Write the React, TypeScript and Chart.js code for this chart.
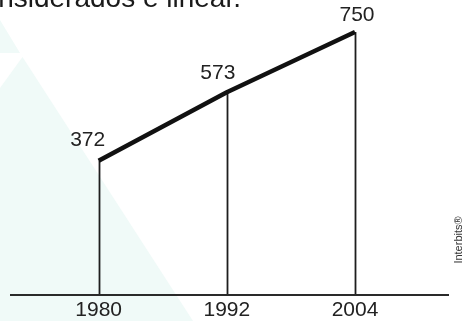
import React, { useEffect, useRef } from "react";
import { Chart, registerables } from "chart.js";

Chart.register(...registerables);

const years = [1980, 1992, 2004];
const values = [372, 573, 750];
const tickLabels = ["1980", "1992", "2004"];
const valueLabels = ["372", "573", "750"];
const caption = "considerados é linear.";
const credit = "Interbits®";

export default function App() {
  const ref = useRef<HTMLCanvasElement | null>(null);

  useEffect(() => {
    if (!ref.current) return;
    const decor = {
      id: "decor",
      beforeDraw(chart: any) {
        const ctx = chart.ctx;
        ctx.save();
        ctx.fillStyle = "#ffffff";
        ctx.fillRect(0, 0, chart.width, chart.height);
        ctx.fillStyle = "#f0faf8";
        ctx.beginPath();
        ctx.moveTo(0, 20);
        ctx.lineTo(20, 53);
        ctx.lineTo(0, 53);
        ctx.closePath();
        ctx.fill();
        ctx.beginPath();
        ctx.moveTo(22.5, 57);
        ctx.lineTo(193, 321);
        ctx.lineTo(0, 321);
        ctx.lineTo(0, 88);
        ctx.closePath();
        ctx.fill();
        // caption (cut off at top)
        ctx.fillStyle = "#1a1a1a";
        ctx.font = "28px 'Liberation Sans', Arial, sans-serif";
        ctx.textAlign = "right";
        ctx.textBaseline = "alphabetic";
        ctx.fillText(caption, 241, 7);
        ctx.restore();
      },
      beforeDatasetsDraw(chart: any) {
        const ctx = chart.ctx;
        const area = chart.chartArea;
        const meta = chart.getDatasetMeta(0);
        ctx.save();
        ctx.strokeStyle = "#1e1e1e";
        ctx.lineWidth = 1.8;
        meta.data.forEach((pt: any) => {
          ctx.beginPath();
          ctx.moveTo(Math.round(pt.x) + 0.5, pt.y);
          ctx.lineTo(Math.round(pt.x) + 0.5, area.bottom);
          ctx.stroke();
        });
        ctx.strokeStyle = "#2a2a2a";
        ctx.lineWidth = 1.8;
        ctx.beginPath();
        ctx.moveTo(area.left, area.bottom);
        ctx.lineTo(area.right, area.bottom);
        ctx.stroke();
        ctx.restore();
      },
      afterDatasetsDraw(chart: any) {
        const ctx = chart.ctx;
        const area = chart.chartArea;
        const meta = chart.getDatasetMeta(0);
        const xs = chart.scales.x;
        ctx.save();
        ctx.fillStyle = "#222222";
        ctx.font = "21px 'Liberation Sans', Arial, sans-serif";
        ctx.textAlign = "center";
        ctx.textBaseline = "middle";
        const dx = [-11, -9, 2];
        const dy = [-21, -19, -17];
        meta.data.forEach((pt: any, i: number) => {
          ctx.fillText(valueLabels[i], pt.x + dx[i], pt.y + dy[i]);
        });
        years.forEach((y, i) => {
          ctx.fillText(tickLabels[i], xs.getPixelForValue(y), area.bottom + 15);
        });
        ctx.font = "11px 'Liberation Sans', Arial, sans-serif";
        ctx.fillStyle = "#333333";
        ctx.translate(459, 240);
        ctx.rotate(-Math.PI / 2);
        ctx.fillText(credit, 0, 0);
        ctx.restore();
      },
    };

    const chart = new Chart(ref.current, {
      type: "scatter",
      data: {
        datasets: [
          {
            data: years.map((y, i) => ({ x: y, y: values[i] })),
            showLine: true,
            borderColor: "#111111",
            borderWidth: 4.5,
            pointRadius: 0,
            borderJoinStyle: "round",
          },
        ],
      },
      options: {
        responsive: false,
        animation: false,
        layout: { padding: { left: 10, right: 15, top: 20, bottom: 26 } },
        plugins: { legend: { display: false }, tooltip: { enabled: false } },
        scales: {
          x: { type: "linear", display: false, min: 1971.7, max: 2012.8 },
          y: { type: "linear", display: false, min: -22, max: 785 },
        },
      },
      plugins: [decor],
    } as any);
    return () => chart.destroy();
  }, []);

  return (
    <div style={{ position: "fixed", left: 0, top: 0, width: 464, height: 321 }}>
      <canvas ref={ref} width={464} height={321} />
    </div>
  );
}
